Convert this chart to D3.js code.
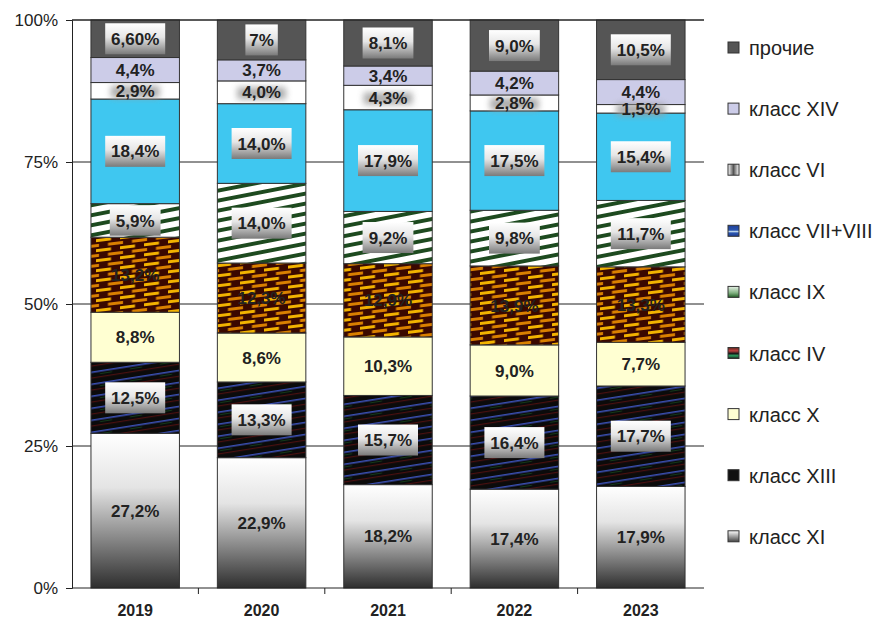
<!DOCTYPE html>
<html><head><meta charset="utf-8">
<script src="https://cdn.jsdelivr.net/npm/d3@7"></script>
<style>body{margin:0;background:#fff}svg{display:block}</style>
</head><body>
<svg id="c" width="874" height="620"></svg>
<script>
const years = ["2019","2020","2021","2022","2023"];
const seriesNames = ["класс XI","класс XIII","класс X","класс IV","класс IX","класс VII+VIII","класс VI","класс XIV","прочие"];
const XI    = [27.2,22.9,18.2,17.4,17.9];
const XIII  = [12.5,13.3,15.7,16.4,17.7];
const X     = [8.8,8.6,10.3,9.0,7.7];
const IV    = [13.2,12.3,12.9,13.9,13.3];
const IX    = [5.9,14.0,9.2,9.8,11.7];
const VII_VIII = [18.4,14.0,17.9,17.5,15.4];
const VI    = [2.9,4.0,4.3,2.8,1.5];
const XIV   = [4.4,3.7,3.4,4.2,4.4];
const other = [6.6,7,8.1,9.0,10.5];
const otherLabels = ["6,60%","7%","8,1%","9,0%","10,5%"];
const yTicks = [0,0.25,0.5,0.75,1];

const seriesVals = [XI,XIII,X,IV,IX,VII_VIII,VI,XIV,other];
const rows = years.map((yr,i)=>{const r={year:yr};seriesNames.forEach((s,k)=>r[s]=seriesVals[k][i]);return r;});

const svg = d3.select("#c");
const defs = svg.append("defs");
function lin(id, vertical, stops){
  const gr = defs.append("linearGradient").attr("id",id).attr("x1",0).attr("y1",0).attr("x2",vertical?0:1).attr("y2",vertical?1:0);
  stops.forEach(s=>gr.append("stop").attr("offset",s[0]).attr("stop-color",s[1]));
}
lin("gXI",true,[["0%","#ffffff"],["35%","#e4e4e4"],["100%","#2e2e2e"]]);
lin("gBox",true,[["0%","#ffffff"],["45%","#e6e6e6"],["100%","#7a7a7a"]]);
lin("gVIleg",false,[["0%","#ffffff"],["50%","#555555"],["100%","#ffffff"]]);
lin("gXIleg",true,[["0%","#ffffff"],["100%","#444444"]]);
lin("gVIIleg",true,[["0%","#1f3f98"],["45%","#2a55b0"],["55%","#c8e0f0"],["70%","#2a55b0"],["100%","#1f3f98"]]);
lin("gIXleg",true,[["0%","#e8f2e8"],["60%","#7fb07f"],["100%","#1f5a22"]]);
lin("gIVleg",true,[["0%","#5a2a20"],["30%","#c04040"],["55%","#1a1a1a"],["75%","#2aa060"],["100%","#1a1a1a"]]);
const fBlur = defs.append("filter").attr("id","blur").attr("x","-20%").attr("y","-50%").attr("width","140%").attr("height","200%");
fBlur.append("feGaussianBlur").attr("stdDeviation",3);

const pXIII = defs.append("pattern").attr("id","pXIII").attr("patternUnits","userSpaceOnUse").attr("width",30).attr("height",12).attr("patternTransform","skewY(-9)");
pXIII.append("rect").attr("width",30).attr("height",12).attr("fill","#0b0b0b");
pXIII.append("rect").attr("x",0).attr("y",2).attr("width",30).attr("height",1.6).attr("fill","#3a4fb0");
pXIII.append("rect").attr("x",0).attr("y",8).attr("width",30).attr("height",1.2).attr("fill","#4a1010");
pXIII.append("rect").attr("x",10).attr("y",5).attr("width",12).attr("height",1).attr("fill","#123a18");
const pIV = defs.append("pattern").attr("id","pIV").attr("patternUnits","userSpaceOnUse").attr("width",24).attr("height",10).attr("patternTransform","skewY(-7)");
pIV.append("rect").attr("width",24).attr("height",10).attr("fill","#3a0800");
pIV.append("rect").attr("x",0).attr("y",1).attr("width",15).attr("height",3).attr("fill","#f2b200");
pIV.append("rect").attr("x",12).attr("y",6).attr("width",12).attr("height",3).attr("fill","#d98000");
pIV.append("rect").attr("x",0).attr("y",6).attr("width",3).attr("height",3).attr("fill","#d98000");
const pIX = defs.append("pattern").attr("id","pIX").attr("patternUnits","userSpaceOnUse").attr("width",24).attr("height",10).attr("patternTransform","skewY(-11)");
pIX.append("rect").attr("width",24).attr("height",10).attr("fill","#ffffff");
pIX.append("rect").attr("x",0).attr("y",1).attr("width",24).attr("height",4).attr("fill","#1d4a1f");

const fills = {
  "класс XI":"url(#gXI)","класс XIII":"url(#pXIII)","класс X":"#ffffd2","класс IV":"url(#pIV)",
  "класс IX":"url(#pIX)","класс VII+VIII":"#3fc7f0","класс VI":"#ffffff","класс XIV":"#cccce8","прочие":"#555555"
};
const legendFills = {
  "класс XI":"url(#gXIleg)","класс XIII":"#111111","класс X":"#ffffd2","класс IV":"url(#gIVleg)",
  "класс IX":"url(#gIXleg)","класс VII+VIII":"url(#gVIIleg)","класс VI":"url(#gVIleg)","класс XIV":"#cccce8","прочие":"#555555"
};
const boxed = {"прочие":true,"класс VII+VIII":true,"класс IX":true,"класс XIII":true};

const pL=72, pR=704, pT=20, pB=588;
const x = d3.scaleBand().domain(years).range([pL,pR]).paddingInner(0.3).paddingOuter(0.15);
const xb = d3.scaleBand().domain(years).range([pL,pR]);
const y = d3.scaleLinear().domain([0,1]).range([pB,pT]);

svg.append("g").selectAll("line").data(yTicks.filter(t=>t>0)).join("line")
  .attr("x1",pL).attr("x2",pR).attr("y1",d=>y(d)).attr("y2",d=>y(d))
  .attr("stroke","#222").attr("stroke-width",1);

const stack = d3.stack().keys(seriesNames).offset(d3.stackOffsetExpand);
const series = stack(rows);

const g = svg.append("g");
series.forEach(s=>{
  g.append("g").selectAll("rect").data(s).join("rect")
    .attr("x",d=>x(d.data.year)).attr("width",x.bandwidth())
    .attr("y",d=>y(d[1])).attr("height",d=>y(d[0])-y(d[1]))
    .attr("fill",fills[s.key]).attr("stroke","#333").attr("stroke-width",1);
});

const fmt = v => d3.format(".1f")(v).replace(".",",")+"%";
const lab = svg.append("g").attr("font-family","Liberation Sans, Arial, sans-serif").attr("font-weight","bold").attr("font-size",17);
series.forEach(s=>{
  s.forEach((d,i)=>{
    const cx = x(d.data.year)+x.bandwidth()/2;
    const cy = (y(d[0])+y(d[1]))/2;
    const txt = s.key==="прочие" ? otherLabels[i] : fmt(d.data[s.key]);
    const h = y(d[0])-y(d[1]);
    const tw = txt.length*9.2;
    if (boxed[s.key]) {
      const bh = Math.min(31, h-3);
      lab.append("rect").attr("x",cx-tw/2-7).attr("y",cy-bh/2).attr("width",tw+14).attr("height",bh).attr("fill","url(#gBox)");
    }
    if (s.key==="класс VI") {
      lab.append("rect").attr("x",cx-tw/2-6).attr("y",cy-5).attr("width",tw+12).attr("height",12)
        .attr("fill","#9a9a9a").attr("opacity",0.8).attr("filter","url(#blur)");
    }
    lab.append("text").attr("x",cx).attr("y",cy).attr("dy","0.36em").attr("text-anchor","middle")
      .attr("fill","#222").text(txt);
  });
});

svg.append("line").attr("x1",pL).attr("x2",pR).attr("y1",pT).attr("y2",pT).attr("stroke","#222");
const ya = svg.append("g").attr("transform",`translate(${pL},0)`)
  .call(d3.axisLeft(y).tickValues(yTicks).tickFormat(d3.format(".0%")).tickSize(6).tickPadding(8));
ya.select(".domain").attr("stroke","#222");
ya.selectAll(".tick line").attr("stroke","#222");
ya.selectAll("text").attr("font-family","Liberation Sans, Arial, sans-serif").attr("font-size",17).attr("fill","#222");

svg.append("line").attr("x1",pL).attr("x2",pR).attr("y1",pB).attr("y2",pB).attr("stroke","#222");
svg.append("g").selectAll("line").data(years.slice(1)).join("line")
  .attr("x1",d=>xb(d)).attr("x2",d=>xb(d)).attr("y1",pB).attr("y2",pB+6).attr("stroke","#222");
svg.append("g").selectAll("text").data(years).join("text")
  .attr("x",d=>x(d)+x.bandwidth()/2).attr("y",616).attr("text-anchor","middle")
  .attr("font-family","Liberation Sans, Arial, sans-serif").attr("font-weight","bold").attr("font-size",16).attr("fill","#222")
  .text(d=>d);

const legendOrder = seriesNames.slice().reverse();
const lg = svg.append("g");
legendOrder.forEach((k,i)=>{
  const ly = 48 + i*61.1;
  lg.append("rect").attr("x",728).attr("y",ly-6).attr("width",11).attr("height",11)
    .attr("fill",legendFills[k]).attr("stroke","#333").attr("stroke-width",1);
  lg.append("text").attr("x",749).attr("y",ly).attr("dy","0.35em")
    .attr("font-family","Liberation Sans, Arial, sans-serif").attr("font-size",20).attr("fill","#222").text(k);
});
</script>
</body></html>
